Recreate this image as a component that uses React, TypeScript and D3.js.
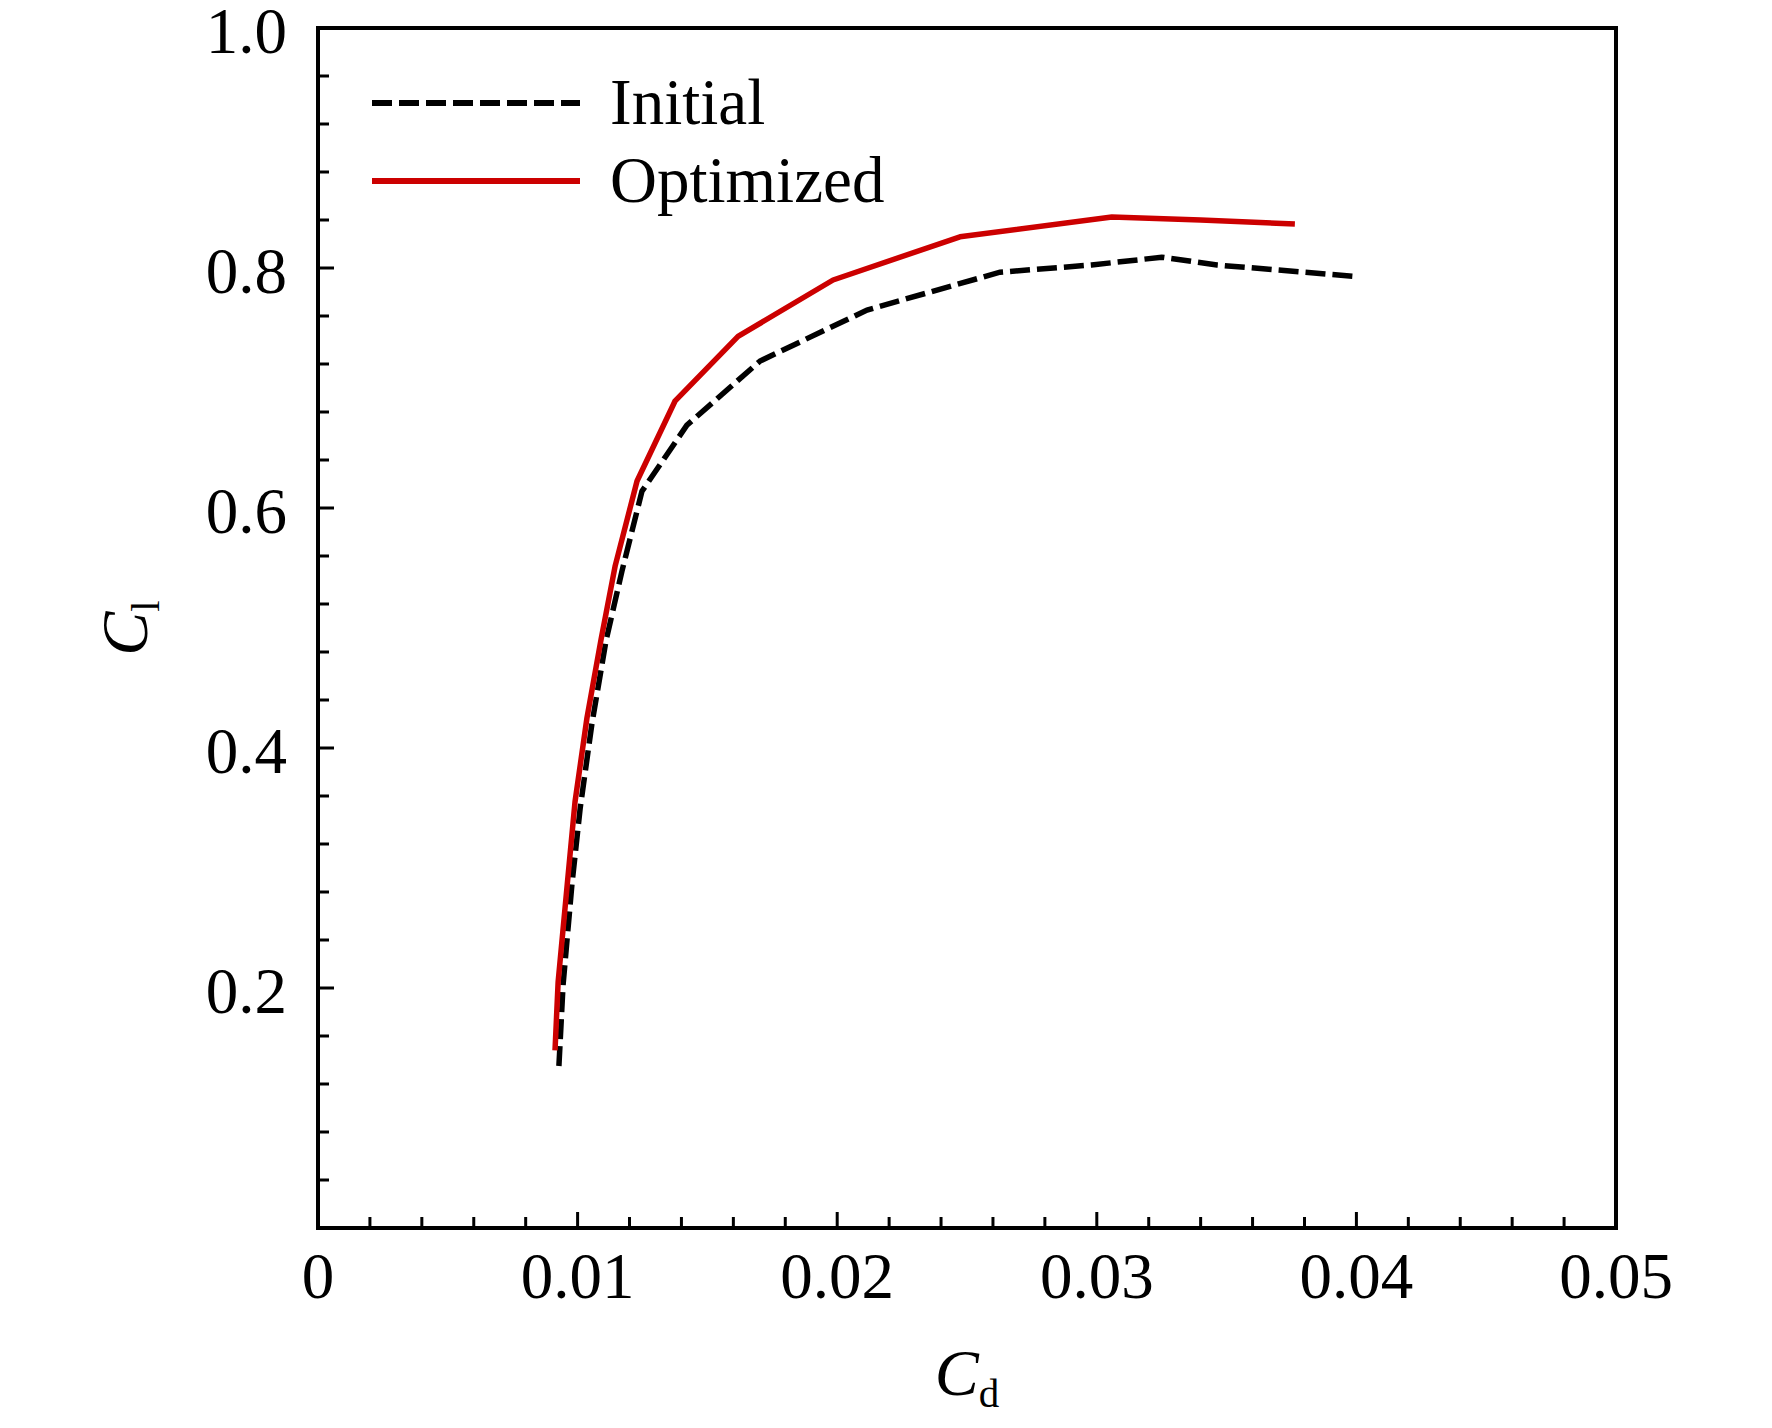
import React from "react";
import * as d3 from "d3";

const initialCd = [0.00928, 0.00944, 0.00978, 0.0101, 0.01055, 0.0111, 0.01171, 0.01248, 0.01421, 0.01703, 0.02115, 0.02627, 0.0298, 0.0325, 0.03463, 0.03995];
const initialCl = [0.135, 0.2025, 0.286, 0.35, 0.42, 0.49, 0.5475, 0.614, 0.669, 0.7225, 0.765, 0.7965, 0.8025, 0.809, 0.8025, 0.793];

const optimizedCd = [0.00913, 0.00925, 0.0096, 0.0099, 0.01036, 0.0109, 0.01145, 0.01229, 0.01375, 0.01618, 0.01984, 0.02473, 0.03058, 0.034, 0.03763];
const optimizedCl = [0.148, 0.205, 0.286, 0.355, 0.425, 0.49, 0.552, 0.6225, 0.689, 0.743, 0.79, 0.826, 0.8425, 0.84, 0.8367];

const xMajorTicks = [0, 0.01, 0.02, 0.03, 0.04, 0.05];
const xTickLabels = ["0", "0.01", "0.02", "0.03", "0.04", "0.05"];
const yMajorTicks = [0.2, 0.4, 0.6, 0.8, 1.0];
const yTickLabels = ["0.2", "0.4", "0.6", "0.8", "1.0"];

const W = 1772;
const H = 1428;
const L = 318, R = 1616, T = 28, B = 1228;
const FONT = "'Liberation Serif', 'Times New Roman', serif";
const FS = 65;

export default function App() {
  const x = d3.scaleLinear().domain([0, 0.05]).range([L, R]);
  const y = d3.scaleLinear().domain([0, 1.0]).range([B, T]);

  const xMinor = d3.range(0, 25).map((i) => i * 0.002).filter((v) => v > 0);
  const yMinor = d3.range(0, 25).map((i) => i * 0.04).filter((v) => v > 0);

  const line = d3
    .line<[number, number]>()
    .x((d) => x(d[0]))
    .y((d) => y(d[1]));

  const initPts = initialCd.map((c, i) => [c, initialCl[i]] as [number, number]);
  const optPts = optimizedCd.map((c, i) => [c, optimizedCl[i]] as [number, number]);

  const isMajorX = (v: number) => Math.abs(v * 100 - Math.round(v * 100)) < 1e-6;
  const isMajorY = (v: number) => Math.abs(v * 5 - Math.round(v * 5)) < 1e-6;

  return (
    <svg
      width={W}
      height={H}
      style={{ position: "absolute", left: 0, top: 0, background: "#fff" }}
      fontFamily={FONT}
    >
      <rect x={0} y={0} width={W} height={H} fill="#fff" />
      {/* curves */}
      <path d={line(initPts) || ""} fill="none" stroke="#000" strokeWidth={5.5} strokeDasharray="20 7" />
      <path d={line(optPts) || ""} fill="none" stroke="#cc0000" strokeWidth={5.5} strokeLinejoin="round" />

      {/* x ticks */}
      {xMinor.map((v, i) => (
        <line
          key={"xt" + i}
          x1={x(v)}
          x2={x(v)}
          y1={B}
          y2={B - (isMajorX(v) ? 16 : 11)}
          stroke="#000"
          strokeWidth={3}
        />
      ))}
      {/* y ticks */}
      {yMinor.map((v, i) => (
        <line
          key={"yt" + i}
          x1={L}
          x2={L + (isMajorY(v) ? 16 : 11)}
          y1={y(v)}
          y2={y(v)}
          stroke="#000"
          strokeWidth={3}
        />
      ))}

      {/* frame */}
      <rect x={L} y={T} width={R - L} height={B - T} fill="none" stroke="#000" strokeWidth={4} />

      {/* x tick labels */}
      {xMajorTicks.map((v, i) => (
        <text key={"xl" + i} x={x(v)} y={1298} fontSize={FS} textAnchor="middle" fill="#000">
          {xTickLabels[i]}
        </text>
      ))}
      {/* y tick labels */}
      {yMajorTicks.map((v, i) => (
        <text key={"yl" + i} x={287} y={y(v) + 25} fontSize={FS} textAnchor="end" fill="#000">
          {yTickLabels[i]}
        </text>
      ))}

      {/* axis titles */}
      <text x={(L + R) / 2} y={1395} fontSize={66} textAnchor="middle" fill="#000">
        <tspan fontStyle="italic">C</tspan>
        <tspan fontSize={41} dy={12}>d</tspan>
      </text>
      <text
        transform={`translate(147, ${(T + B) / 2}) rotate(-90)`}
        fontSize={66}
        textAnchor="middle"
        fill="#000"
      >
        <tspan fontStyle="italic">C</tspan>
        <tspan fontSize={41} dy={12}>l</tspan>
      </text>

      {/* legend */}
      <line x1={372} x2={580} y1={103} y2={103} stroke="#000" strokeWidth={6} strokeDasharray="20 7" />
      <text x={610} y={124} fontSize={FS} fill="#000">Initial</text>
      <line x1={372} x2={580} y1={181} y2={181} stroke="#cc0000" strokeWidth={6} />
      <text x={610} y={202} fontSize={FS} fill="#000">Optimized</text>
    </svg>
  );
}
